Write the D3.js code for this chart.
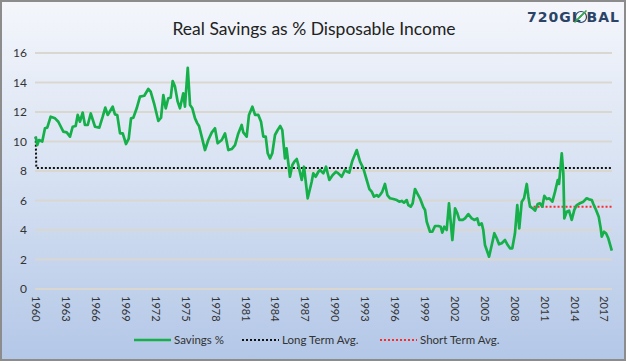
<!DOCTYPE html>
<html><head><meta charset="utf-8">
<script src="https://cdn.jsdelivr.net/npm/d3@7"></script>
<style>html,body{margin:0;padding:0;background:#fff;}svg{display:block;}</style>
</head><body>
<svg id="c" width="630" height="364"></svg>
<script>
// ---- data ----
const years = [1960.02,1960.18,1960.35,1960.68,1960.95,1961.18,1961.52,1961.96,1962.29,1962.79,1963.13,1963.46,1963.73,1964.03,1964.23,1964.46,1964.73,1964.96,1965.24,1965.54,1965.97,1966.40,1966.74,1967.00,1967.24,1967.74,1967.97,1968.20,1968.48,1968.75,1969.08,1969.35,1969.58,1969.81,1970.15,1970.48,1970.91,1971.31,1971.55,1971.89,1972.32,1972.59,1972.82,1973.06,1973.32,1973.56,1973.76,1973.99,1974.26,1974.49,1974.82,1974.99,1975.27,1975.50,1975.73,1976.00,1976.23,1976.40,1976.67,1977.00,1977.33,1977.67,1978.00,1978.27,1978.68,1979.01,1979.34,1979.68,1980.01,1980.34,1980.68,1980.84,1981.18,1981.41,1981.75,1982.02,1982.35,1982.62,1982.85,1983.09,1983.29,1983.52,1983.75,1984.02,1984.29,1984.55,1984.75,1985.02,1985.18,1985.52,1985.76,1985.96,1986.20,1986.36,1986.70,1986.93,1987.30,1987.70,1987.86,1988.10,1988.37,1988.54,1988.87,1989.14,1989.47,1989.81,1990.14,1990.37,1990.71,1991.04,1991.27,1991.47,1991.78,1992.22,1992.55,1992.88,1993.22,1993.48,1993.72,1993.95,1994.22,1994.38,1994.55,1994.78,1995.05,1995.29,1995.56,1995.89,1996.23,1996.49,1996.73,1996.96,1997.23,1997.39,1997.63,1997.83,1998.06,1998.29,1998.56,1998.90,1999.07,1999.24,1999.57,1999.80,2000.07,2000.40,2000.64,2000.80,2001.00,2001.24,2001.47,2001.64,2001.81,2002.08,2002.31,2002.51,2002.85,2003.08,2003.41,2003.75,2004.01,2004.31,2004.48,2004.75,2004.91,2005.08,2005.49,2005.76,2006.02,2006.26,2006.49,2006.76,2007.09,2007.36,2007.59,2007.82,2008.09,2008.32,2008.52,2008.77,2009.00,2009.27,2009.43,2009.60,2009.87,2010.10,2010.37,2010.60,2010.83,2011.03,2011.27,2011.53,2011.84,2012.11,2012.38,2012.51,2012.78,2012.94,2013.04,2013.28,2013.51,2013.78,2014.04,2014.28,2014.61,2014.95,2015.28,2015.51,2015.79,2015.95,2016.22,2016.49,2016.69,2016.79,2017.02,2017.22,2017.45,2017.80];
const savings = [10.33,9.76,10.1,10.0,10.9,10.94,11.68,11.57,11.34,10.67,10.62,10.33,11.0,11.05,11.8,11.34,11.96,11.12,11.12,11.9,11.0,10.94,11.68,12.3,11.8,12.36,11.84,11.8,10.55,10.55,9.83,10.2,11.57,11.61,12.25,13.04,13.1,13.56,13.38,12.59,11.39,11.61,13.15,12.25,12.93,12.97,14.1,13.72,12.7,12.25,13.27,12.36,15.0,12.47,12.25,11.57,11.23,11.05,10.33,9.42,10.1,10.6,10.9,9.88,10.1,10.55,9.42,9.49,9.76,10.55,11.12,10.62,10.33,11.8,12.36,11.8,11.8,11.34,10.33,10.33,9.2,8.86,9.2,10.44,10.78,11.05,10.78,8.86,9.54,7.61,8.41,8.63,8.81,8.41,7.39,8.29,6.15,7.27,7.84,7.61,7.95,8.07,7.84,8.29,7.39,7.73,7.95,7.84,7.61,8.07,7.95,7.89,8.7,9.42,8.63,8.18,7.39,6.78,6.6,6.26,6.37,6.26,6.37,6.6,7.12,6.37,6.15,6.1,6.03,5.92,5.97,5.85,6.03,5.69,5.58,5.81,6.78,6.49,6.15,5.54,5.36,4.56,3.88,3.88,4.27,4.27,4.22,3.82,4.22,4.0,5.81,4.56,3.32,5.47,5.13,4.68,4.68,4.79,5.08,4.79,4.68,4.79,4.34,4.45,4.0,2.98,2.19,2.98,3.78,3.44,3.03,3.1,3.32,2.98,2.76,2.76,3.78,5.69,4.11,5.92,6.15,7.12,6.26,5.58,5.47,5.31,5.76,5.81,5.58,6.31,6.1,6.15,5.92,6.6,7.39,7.12,9.2,7.84,4.79,5.24,5.31,4.68,5.36,5.69,5.81,5.92,6.15,6.08,6.03,5.76,5.36,4.9,4.11,3.55,3.88,3.78,3.44,2.6];
const longTermYears = [1960.02, 1960.08, 2017.80];
const longTermAvg = [10.33, 8.2, 8.2];
const shortTermYears = [2009.55, 2017.80];
const shortTermAvg = [5.58, 5.58];
const yTicks = [0,2,4,6,8,10,12,14,16];
const xTickLabels = [1960,1963,1966,1969,1972,1975,1978,1981,1984,1987,1990,1993,1996,1999,2002,2005,2008,2011,2014,2017];
const seriesNames = ["Savings %","Long Term Avg.","Short Term Avg."];
const titleText = "Real Savings as % Disposable Income";

// ---- drawing ----
const svg = d3.select("#c");
const FONT = "Lato, 'Open Sans', sans-serif";
const defs = svg.append("defs");
const grad = defs.append("linearGradient").attr("id","bg").attr("x1",0).attr("y1",0).attr("x2",0).attr("y2",1);
grad.append("stop").attr("offset","0%").attr("stop-color","#f4f6fb");
grad.append("stop").attr("offset","45%").attr("stop-color","#d9e3f3");
grad.append("stop").attr("offset","100%").attr("stop-color","#b3c7e7");

svg.append("rect").attr("x",1).attr("y",1).attr("width",624).attr("height",359)
  .attr("fill","url(#bg)").attr("stroke","#8c8c8c").attr("stroke-width",2);

const x = d3.scaleLinear().domain([1960, 2017.75]).range([35.5, 611.3]);
const y = d3.scaleLinear().domain([0, 16]).range([289, 53]);

// gridlines
svg.append("g").selectAll("line").data(yTicks).join("line")
  .attr("x1",35).attr("x2",612)
  .attr("y1",d=>y(d)).attr("y2",d=>y(d))
  .attr("stroke","#dad7d1").attr("stroke-width",2);

// y axis labels
const yAxis = d3.axisLeft(y).tickValues(yTicks).tickSize(0).tickPadding(0).tickFormat(d3.format("d"));
const gy = svg.append("g").attr("transform","translate(27,0)").call(yAxis);
gy.select(".domain").remove();
gy.selectAll("text").attr("font-family",FONT).attr("font-size",12).attr("fill","#333");

// x axis labels
const xAxis = d3.axisBottom(x).tickValues(xTickLabels).tickSize(0).tickPadding(0).tickFormat(d3.format("d"));
const gx = svg.append("g").attr("transform","translate(0,296)").call(xAxis);
gx.select(".domain").remove();
gx.selectAll("text").attr("font-family",FONT).attr("font-size",11).attr("fill","#333")
  .attr("transform","rotate(90)").attr("text-anchor","start").attr("dy","0.35em").attr("y",0).attr("x",0);

// lines
const line = d3.line().x(d=>x(d[0])).y(d=>y(d[1]));
svg.append("path").datum(longTermYears.map((t,i)=>[t,longTermAvg[i]]))
  .attr("d",line).attr("fill","none").attr("stroke","#111").attr("stroke-width",2).attr("stroke-dasharray","2,2");
svg.append("path").datum(shortTermYears.map((t,i)=>[t,shortTermAvg[i]]))
  .attr("d",line).attr("fill","none").attr("stroke","#ff2a2a").attr("stroke-width",2).attr("stroke-dasharray","2,2");
svg.append("path").datum(years.map((t,i)=>[t,savings[i]]))
  .attr("d",line).attr("fill","none").attr("stroke","#16b04a").attr("stroke-width",2.7).attr("stroke-linejoin","round");

// title
svg.append("text").attr("x",314).attr("y",35).attr("text-anchor","middle")
  .attr("font-family",FONT).attr("font-size",17.5).attr("fill","#222").text(titleText);

// logo
const logo = svg.append("g").attr("font-family","'DejaVu Sans', sans-serif").attr("font-weight","bold").attr("font-size",14).attr("fill","#2b4466");
logo.append("text").attr("x",527).attr("y",22).attr("letter-spacing",1).text("720GL");
const gl = logo.append("g").attr("transform","translate(581,17)");
gl.append("circle").attr("r",5.5).attr("fill","none").attr("stroke","#2b4466").attr("stroke-width",1.2);
[-2.5,0,2.5].forEach(o=>gl.append("line").attr("x1",-4+o).attr("y1",3-o).attr("x2",3+o).attr("y2",-4-o).attr("stroke","#3aa655").attr("stroke-width",1.6));
logo.append("text").attr("x",620).attr("y",22).attr("text-anchor","end").attr("letter-spacing",1).text("BAL");

// legend
const legend = [
  {name:seriesNames[0], x1:134, color:"#16b04a", dash:null, w:2.5},
  {name:seriesNames[1], x1:242, color:"#111", dash:"2,2", w:2},
  {name:seriesNames[2], x1:380, color:"#ff2a2a", dash:"2,2", w:2}
];
const lg = svg.append("g");
legend.forEach(l=>{
  lg.append("line").attr("x1",l.x1).attr("x2",l.x1+37).attr("y1",340).attr("y2",340)
    .attr("stroke",l.color).attr("stroke-width",l.w).attr("stroke-dasharray",l.dash);
  lg.append("text").attr("x",l.x1+40).attr("y",344).attr("font-family",FONT).attr("font-size",11.5).attr("fill","#333").text(l.name);
});
</script>
</body></html>
